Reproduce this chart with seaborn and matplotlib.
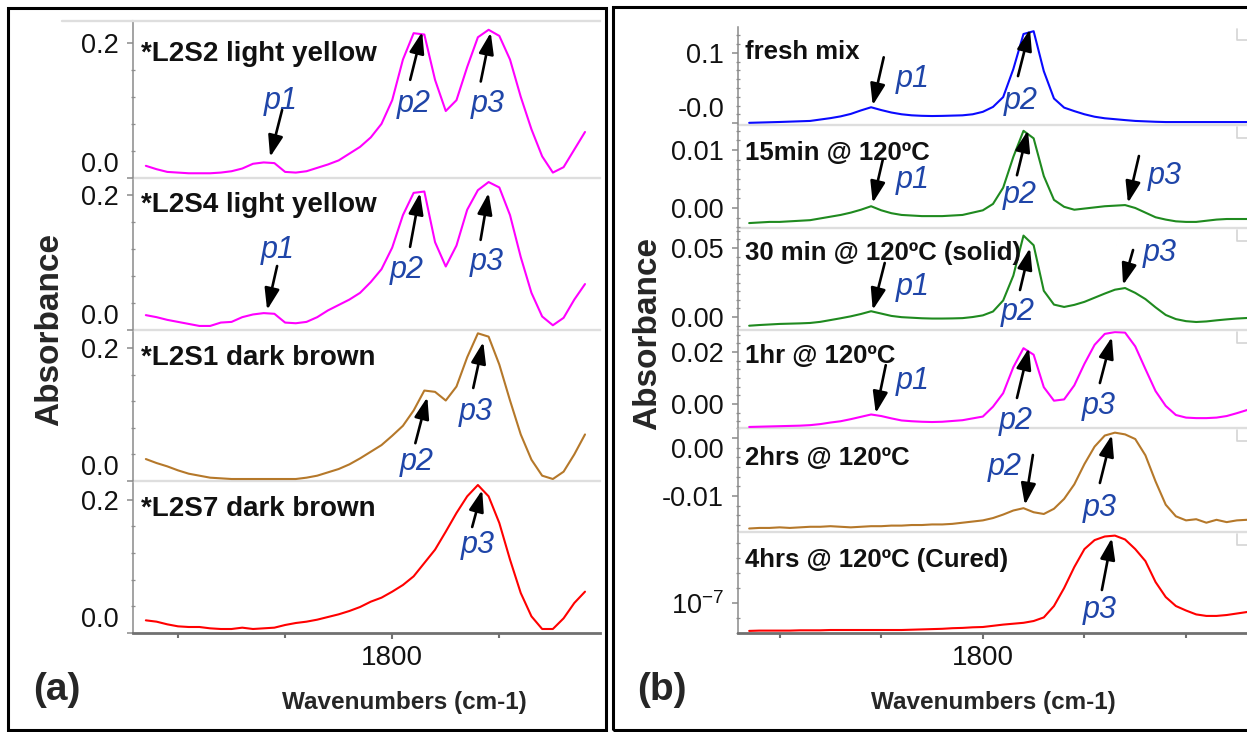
import matplotlib
matplotlib.use("Agg")
import matplotlib.pyplot as plt
from matplotlib.ticker import MultipleLocator
from matplotlib.patches import Rectangle
from matplotlib.lines import Line2D
import seaborn as sns

W, H = 1247, 732
PX = 0.72  # one pixel in points at dpi 100

# ---------------- panel (a) data ----------------
wn_a = [1685, 1690, 1695, 1700, 1705, 1710, 1715, 1720, 1725, 1730, 1735, 1740,
        1745, 1750, 1755, 1760, 1765, 1770, 1775, 1780, 1785, 1790, 1795, 1800,
        1805, 1810, 1815, 1820, 1825, 1830, 1835, 1840, 1845, 1850, 1855, 1860,
        1865, 1870, 1875, 1880, 1885, 1890]

l2s2 = [0.018, 0.013, 0.009, 0.008, 0.007, 0.007, 0.007, 0.008, 0.010, 0.014, 0.021, 0.023,
        0.022, 0.009, 0.008, 0.010, 0.015, 0.020, 0.026, 0.036, 0.046, 0.060, 0.080, 0.115,
        0.175, 0.214, 0.212, 0.145, 0.099, 0.115, 0.164, 0.208, 0.219, 0.210, 0.175, 0.120,
        0.072, 0.032, 0.008, 0.016, 0.042, 0.068]
l2s4 = [0.022, 0.019, 0.015, 0.012, 0.009, 0.006, 0.006, 0.011, 0.012, 0.019, 0.023, 0.025,
        0.024, 0.011, 0.010, 0.012, 0.019, 0.029, 0.037, 0.045, 0.055, 0.071, 0.090, 0.122,
        0.170, 0.203, 0.205, 0.130, 0.094, 0.125, 0.178, 0.207, 0.219, 0.211, 0.170, 0.108,
        0.055, 0.020, 0.007, 0.018, 0.045, 0.068]
l2s1 = [0.033, 0.027, 0.022, 0.016, 0.011, 0.008, 0.005, 0.004, 0.003, 0.003, 0.003, 0.003,
        0.003, 0.003, 0.003, 0.005, 0.008, 0.013, 0.018, 0.025, 0.034, 0.044, 0.054, 0.068,
        0.083, 0.106, 0.136, 0.134, 0.121, 0.142, 0.186, 0.222, 0.217, 0.175, 0.121, 0.070,
        0.032, 0.008, 0.003, 0.014, 0.040, 0.070]
l2s7 = [0.019, 0.017, 0.013, 0.010, 0.009, 0.009, 0.007, 0.006, 0.006, 0.008, 0.006, 0.007,
        0.008, 0.012, 0.015, 0.017, 0.020, 0.024, 0.028, 0.033, 0.039, 0.047, 0.053, 0.062,
        0.072, 0.085, 0.105, 0.125, 0.152, 0.180, 0.205, 0.222, 0.205, 0.165, 0.110, 0.060,
        0.025, 0.006, 0.006, 0.022, 0.045, 0.062]

labels_a = ["*L2S2 light yellow", "*L2S4 light yellow", "*L2S1 dark brown", "*L2S7 dark brown"]

# ---------------- panel (b) data ----------------
wn_b = [1685, 1690, 1695, 1700, 1705, 1710, 1715, 1720, 1725, 1730, 1735, 1740,
        1745, 1750, 1755, 1760, 1765, 1770, 1775, 1780, 1785, 1790, 1795, 1800,
        1805, 1810, 1815, 1820, 1825, 1830, 1835, 1840, 1845, 1850, 1855, 1860,
        1865, 1870, 1875, 1880, 1885, 1890, 1895, 1900, 1905, 1910, 1915, 1920,
        1925, 1930]

fresh = [0.0003, 0.0007, 0.0011, 0.0015, 0.002, 0.0025, 0.003, 0.005, 0.007, 0.0095,
         0.013, 0.018, 0.0225, 0.0185, 0.015, 0.0125, 0.011, 0.0103, 0.01, 0.0102,
         0.0106, 0.011, 0.0125, 0.016, 0.023, 0.037, 0.077, 0.127, 0.131, 0.074,
         0.035, 0.022, 0.017, 0.0125, 0.009, 0.0068, 0.0055, 0.0042, 0.003, 0.0024,
         0.0018, 0.0014, 0.0014, 0.0014, 0.0014, 0.0014, 0.0014, 0.0014, 0.0014, 0.0014]
min15 = [-0.0026, -0.0025, -0.0024, -0.0024, -0.0023, -0.0022, -0.0021, -0.0018, -0.0015, -0.0012,
         -0.0008, -0.0003, 0.0003, -0.0004, -0.0009, -0.0012, -0.0013, -0.0014, -0.0014, -0.0014,
         -0.0013, -0.0012, -0.0008, -0.0004, 0.0007, 0.0035, 0.0088, 0.0133, 0.012, 0.0055,
         0.0014, 0.0002, -0.0003, -0.0001, 0.0001, 0.0003, 0.0004, 0.0005, 0.0, -0.0008,
         -0.0016, -0.002, -0.0023, -0.0024, -0.0024, -0.0022, -0.002, -0.0019, -0.0019, -0.0019]
min30 = [-0.0063, -0.0058, -0.0054, -0.005, -0.0048, -0.0046, -0.0043, -0.0035, -0.0022, -0.0009,
         0.0005, 0.0022, 0.0042, 0.0025, 0.0008, -0.0001, -0.0005, -0.0009, -0.0011, -0.0011,
         -0.001, -0.0008, 0.0, 0.0012, 0.004, 0.012, 0.03, 0.059, 0.052, 0.019,
         0.009, 0.0073, 0.0088, 0.011, 0.014, 0.017, 0.0198, 0.021, 0.0175, 0.013,
         0.007, 0.0015, -0.0015, -0.003, -0.0036, -0.0032, -0.0024, -0.0017, -0.0011, -0.0007]
hr1 = [-0.0088, -0.0087, -0.0086, -0.0085, -0.0084, -0.0083, -0.0081, -0.0077, -0.0071, -0.0066,
       -0.0058, -0.0049, -0.004, -0.0046, -0.0055, -0.0063, -0.0066, -0.0068, -0.0069, -0.0068,
       -0.0065, -0.0062, -0.0055, -0.0048, -0.001, 0.0042, 0.0142, 0.0215, 0.019, 0.0065,
       0.0013, 0.0018, 0.0072, 0.0155, 0.0228, 0.027, 0.0277, 0.0275, 0.0222, 0.0135,
       0.005, -0.0007, -0.0042, -0.0052, -0.0054, -0.0054, -0.0052, -0.0046, -0.0035, -0.0023]
hr2 = [-0.0156, -0.0155, -0.0155, -0.0154, -0.0155, -0.0154, -0.0153, -0.0153, -0.0152, -0.0153,
       -0.0154, -0.0153, -0.0152, -0.0152, -0.0151, -0.0151, -0.015, -0.015, -0.0149, -0.0149,
       -0.0148, -0.0146, -0.0144, -0.0142, -0.0138, -0.0132, -0.0125, -0.0121, -0.0128, -0.0131,
       -0.0122, -0.0105, -0.008, -0.0045, -0.0015, 0.0004, 0.0009, 0.0006, -0.0002, -0.003,
       -0.0075, -0.0115, -0.0135, -0.0142, -0.014, -0.0146, -0.0141, -0.0145, -0.0142, -0.0141]
hr4 = [0.07e-7, 0.08e-7, 0.08e-7, 0.08e-7, 0.08e-7, 0.09e-7, 0.09e-7, 0.09e-7, 0.1e-7, 0.1e-7,
       0.1e-7, 0.1e-7, 0.1e-7, 0.1e-7, 0.1e-7, 0.1e-7, 0.11e-7, 0.12e-7, 0.13e-7, 0.14e-7,
       0.16e-7, 0.17e-7, 0.19e-7, 0.2e-7, 0.24e-7, 0.28e-7, 0.31e-7, 0.34e-7, 0.4e-7, 0.52e-7,
       0.9e-7, 1.5e-7, 2.2e-7, 2.8e-7, 3.1e-7, 3.22e-7, 3.25e-7, 3.12e-7, 2.8e-7, 2.4e-7,
       1.7e-7, 1.2e-7, 0.9e-7, 0.75e-7, 0.62e-7, 0.57e-7, 0.57e-7, 0.6e-7, 0.65e-7, 0.7e-7]

labels_b = ["fresh mix", "15min @ 120ºC", "30 min @ 120ºC (solid)",
            "1hr @ 120ºC", "2hrs @ 120ºC", "4hrs @ 120ºC (Cured)"]

MAGENTA, BROWN, RED = "#ff00ff", "#b5782a", "#ff0000"
GREEN, BLUE = "#1f8a1f", "#0a0aff"
P_BLUE = "#1f45a8"
SEP = "#dedede"
AX_GREY = "#8a8a8a"

sns.set_style("ticks")
plt.rcParams["font.family"] = ["Liberation Sans", "DejaVu Sans"]
plt.rcParams["mathtext.fontset"] = "custom"
plt.rcParams["mathtext.rm"] = "Liberation Sans"


def frac_rect(x0, y0, x1, y1):
    return [x0 / W, 1 - y1 / H, (x1 - x0) / W, (y1 - y0) / H]


def mark(ax, text, tip, tail, lab):
    # arrow from tail (pixel offset from the tip) to the peak, label beside it
    ax.annotate("", xy=tip, xytext=(tail[0] * PX, tail[1] * PX), textcoords="offset points",
                arrowprops=dict(arrowstyle="-|>,head_length=1.3,head_width=0.45",
                                mutation_scale=10, lw=1.9, color="black",
                                shrinkA=0, shrinkB=0), annotation_clip=False)
    t = ax.annotate(text, xy=tip, xytext=(lab[0] * PX, lab[1] * PX), textcoords="offset points",
                    ha="center", va="center", fontsize=22, style="italic", color=P_BLUE,
                    annotation_clip=False)
    t.set_clip_on(False)
    t.set_zorder(10)


def stack(fig, x0, x1, bounds, wn, xlim, rows, first_top, label_size):
    n = len(rows)
    for i, row in enumerate(rows):
        ax = fig.add_axes(frac_rect(x0, bounds[i], x1, bounds[i + 1]))
        ax.set_facecolor("none")
        ax.set_zorder(n - i)  # upper rows on top so their labels are never hidden
        sns.lineplot(x=wn, y=row["y"], color=row["color"], lw=1.5, ax=ax, legend=False)
        ax.set_xlim(*xlim)
        ax.set_ylim(*row["ylim"])
        ax.set_xlabel("")
        ax.set_ylabel("")
        last = i == n - 1

        ax.spines["right"].set_visible(False)
        ax.spines["left"].set_color(AX_GREY)
        ax.spines["left"].set_linewidth(1.1)
        ax.spines["top"].set_color(SEP)
        ax.spines["top"].set_linewidth(1.7)
        if i == 0 and not first_top:
            ax.spines["top"].set_visible(False)
        if last:
            ax.spines["bottom"].set_color("#707070")
            ax.spines["bottom"].set_linewidth(2)
        else:
            ax.spines["bottom"].set_visible(False)

        ax.xaxis.set_major_locator(MultipleLocator(200))
        ax.xaxis.set_minor_locator(MultipleLocator(50))
        if last:
            ax.tick_params(axis="x", which="major", length=4.5, width=1.5, color="#707070",
                           labelsize=20, pad=4, labelcolor="#111111")
            ax.tick_params(axis="x", which="minor", length=3.5, width=1.5, color="#707070")
        else:
            ax.tick_params(axis="x", which="both", bottom=False, labelbottom=False)

        ax.set_yticks(row["ticks"], labels=row["ticklabels"])
        ax.yaxis.set_minor_locator(MultipleLocator(row["minor"]))
        ax.tick_params(axis="y", which="major", length=4, width=1.1, color=AX_GREY,
                       labelsize=19.5, pad=6, labelcolor="#111111")
        ax.tick_params(axis="y", which="minor", direction="inout", length=3, width=0.9,
                       color="#8f8f8f")
        for lab, va in zip(ax.get_yticklabels(), row["va"]):
            lab.set_va(va)

        ax.annotate(row["label"], xy=(0, 1), xycoords="axes fraction",
                    xytext=(row["lab_off"][0] * PX, -row["lab_off"][1] * PX),
                    textcoords="offset points", ha="left", va="baseline",
                    fontsize=label_size, fontweight="bold", color="#111111")
        for m in row["marks"]:
            mark(ax, *m)


fig = plt.figure(figsize=(W / 100, H / 100), dpi=100)

rows_a = [
    dict(y=l2s2, color=MAGENTA, label=labels_a[0], ylim=(0, 0.232), ticks=[0.0, 0.2],
         ticklabels=["0.0", "0.2"], va=["bottom", "center_baseline"], minor=0.04, lab_off=(8, 40),
         marks=[("p1", (1743, 0.031), (12, 47), (11, 56)),
                ("p2", (1814, 0.216), (-12, -48), (-8, -72)),
                ("p3", (1846, 0.215), (-10, -49), (-3, -71))]),
    dict(y=l2s4, color=MAGENTA, label=labels_a[1], ylim=(0, 0.225), ticks=[0.0, 0.2],
         ticklabels=["0.0", "0.2"], va=["bottom", "center_baseline"], minor=0.04, lab_off=(8, 34),
         marks=[("p1", (1741.6, 0.0296), (10, 44), (11, 60)),
                ("p2", (1813, 0.203), (-10, -54), (-13, -77)),
                ("p3", (1845, 0.203), (-8, -47), (-2, -69))]),
    dict(y=l2s1, color=BROWN, label=labels_a[2], ylim=(0, 0.227), ticks=[0.0, 0.2],
         ticklabels=["0.0", "0.2"], va=["bottom", "center_baseline"], minor=0.04, lab_off=(8, 35),
         marks=[("p2", (1816.4, 0.126), (-12, -46), (-11, -65)),
                ("p3", (1842.5, 0.209), (-10, -46), (-7, -70))]),
    dict(y=l2s7, color=RED, label=labels_a[3], ylim=(0, 0.228), ticks=[0.0, 0.2],
         ticklabels=["0.0", "0.2"], va=["bottom", "center_baseline"], minor=0.04, lab_off=(8, 35),
         marks=[("p3", (1842, 0.2145), (-10, -37), (-4, -55))]),
]

rows_b = [
    dict(y=fresh, color=BLUE, label=labels_b[0], ylim=(-0.0028, 0.137), ticks=[0.0, 0.1],
         ticklabels=["-0.0", "0.1"], va=["bottom", "center_baseline"], minor=0.0125, lab_off=(7, 32),
         marks=[("p1", (1745.8, 0.0253), (11, 48), (40, 26)),
                ("p2", (1823.2, 0.134), (-12, -47), (-9, -72))]),
    dict(y=min15, color=GREEN, label=labels_b[1], ylim=(-0.00345, 0.0143), ticks=[0.0, 0.01],
         ticklabels=["0.00", "0.01"], va=["center_baseline", "center_baseline"], minor=0.01 / 6,
         lab_off=(7, 35),
         marks=[("p1", (1745.8, 0.00086), (10, 43), (40, 23)),
                ("p2", (1822.2, 0.0134), (-11, -45), (-8, -65)),
                ("p3", (1871.4, 0.00086), (11, 47), (37, 27))]),
    dict(y=min30, color=GREEN, label=labels_b[2], ylim=(-0.0094, 0.0645), ticks=[0.0, 0.05],
         ticklabels=["0.00", "0.05"], va=["center_baseline", "center_baseline"], minor=0.05 / 8,
         lab_off=(7, 32),
         marks=[("p1", (1745.8, 0.0051), (12, 47), (40, 23)),
                ("p2", (1823.2, 0.05), (-10, -42), (-12, -64)),
                ("p3", (1869, 0.0232), (10, 35), (37, 32))]),
    dict(y=hr1, color=MAGENTA, label=labels_b[3], ylim=(-0.0092, 0.0285), ticks=[0.0, 0.02],
         ticklabels=["0.00", "0.02"], va=["center_baseline", "center_baseline"], minor=0.02 / 6,
         lab_off=(7, 33),
         marks=[("p1", (1747.3, -0.0035), (10, 48), (37, 32)),
                ("p2", (1822.7, 0.0216), (-12, -50), (-13, -73)),
                ("p3", (1863.5, 0.0258), (-12, -46), (-13, -69))]),
    dict(y=hr2, color=BROWN, label=labels_b[4], ylim=(-0.0162, 0.0017), ticks=[-0.01, 0.0],
         ticklabels=["-0.01", "0.00"], va=["center_baseline", "top"], minor=0.01 / 6,
         lab_off=(7, 37),
         marks=[("p2", (1820.7, -0.01155), (8, 50), (-20, 38)),
                ("p3", (1863.5, 0.0005), (-12, -48), (-12, -73))]),
    dict(y=hr4, color=RED, label=labels_b[5], ylim=(0, 3.37e-7), ticks=[1e-7],
         ticklabels=[r"$10^{-7}$"], va=["center_baseline"], minor=0.5e-7, lab_off=(7, 35),
         marks=[("p3", (1863.5, 3.17e-7), (-10, -52), (-12, -72))]),
]

stack(fig, 133, 600, [21, 178, 330, 481, 633], wn_a, (1679, 1897), rows_a, True, 20)
stack(fig, 738, 1247, [27, 125, 228, 330, 428, 532, 633], wn_b, (1679.5, 1930), rows_b, False, 18.5)

# panel frames and the loose separator pieces
fig.add_artist(Rectangle((8 / W, 1 - 730 / H), 598 / W, 722 / H, transform=fig.transFigure,
                         fill=False, lw=2.2, ec="black"))
fig.add_artist(Rectangle((613 / W, 1 - 730 / H), 660 / W, 723 / H, transform=fig.transFigure,
                         fill=False, lw=2.2, ec="black"))
fig.add_artist(Line2D([62 / W, 133 / W], [1 - 21 / H] * 2, color=SEP, lw=1.7))
for top in [27, 125, 228, 330, 428, 532]:
    fig.add_artist(Line2D([1237 / W, 1237 / W, 1247 / W],
                          [1 - (top + 2) / H, 1 - (top + 13) / H, 1 - (top + 13) / H],
                          color="#d4d4d4", lw=1.2))

for cx, tag in [(57, "(a)"), (662, "(b)")]:
    fig.text(cx / W, 1 - 690 / H, tag, fontsize=28, fontweight="bold", ha="center", va="center")
for cx in [404, 993]:
    fig.text(cx / W, 1 - 703 / H, "Wavenumbers (cm-1)", fontsize=17.5, fontweight="bold",
             ha="center", va="center")
for cx, cy in [(50, 330), (648, 333)]:
    fig.text(cx / W, 1 - cy / H, "Absorbance", fontsize=24, fontweight="bold", rotation=90,
             ha="center", va="center")

fig.savefig("out.png", dpi=100)
